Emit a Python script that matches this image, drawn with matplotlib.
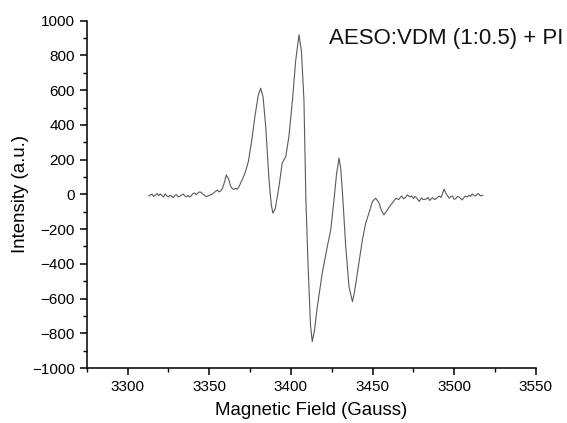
import matplotlib.pyplot as plt
from matplotlib.ticker import MultipleLocator

plt.rcParams['font.family'] = ['Liberation Sans', 'DejaVu Sans']

# EPR spectrum (field in Gauss, intensity in a.u.)
field = [3313, 3314, 3315, 3316, 3317, 3318, 3319, 3320, 3321, 3322,
         3323, 3324, 3325, 3326, 3327, 3328, 3329, 3330, 3331, 3332,
         3333, 3334, 3335, 3336, 3337, 3338, 3339, 3340, 3341, 3342,
         3343, 3344, 3345, 3346, 3347, 3348, 3349, 3350, 3351, 3352,
         3353, 3354, 3355, 3356, 3357, 3358, 3359, 3360.5, 3362, 3363,
         3364, 3365, 3366, 3367, 3368, 3370, 3372, 3374, 3376, 3378,
         3380, 3381.5, 3383, 3384.6, 3386.6, 3388, 3389, 3390.5, 3392.7, 3394.7,
         3396.9, 3398.8, 3401, 3403, 3405, 3406.5, 3408, 3409.2, 3410.5, 3412,
         3413.1, 3414.5, 3416.2, 3419.2, 3422.3, 3424.4, 3426.4, 3428, 3429.5, 3430.5,
         3431.5, 3433.6, 3435.6, 3437.7, 3439, 3440.7, 3443.8, 3445.8, 3447.8, 3450,
         3452, 3454, 3455.5, 3457, 3459, 3461.2, 3463, 3464.2, 3466, 3467,
         3468, 3469, 3470, 3471.3, 3473, 3474, 3475, 3476, 3477, 3478.6,
         3480, 3481, 3482.6, 3484, 3485, 3486, 3487, 3488, 3489, 3490,
         3491, 3492, 3493.8, 3495, 3496.9, 3498, 3499, 3500, 3501, 3502,
         3503, 3504.9, 3506, 3507, 3508, 3509, 3510, 3511.1, 3512, 3513,
         3514.5, 3516.3, 3517.5]
intensity = [-10, -2, 0, -12, -4, 5, -8, 3, -6, -15,
             3, -8, -15, -5, -12, -18, -6, -2, -14, -10,
             -4, 2, -8, -14, -6, -16, -8, 4, 8, -2,
             8, 14, 12, 2, -5, -12, -10, -6, -2, 2,
             10, 18, 25, 14, 20, 32, 60, 112, 85, 50,
             35, 28, 34, 30, 40, 80, 125, 190, 310, 450,
             570, 612, 560, 390, 84, -60, -108, -80, 45, 180,
             218, 333, 545, 775, 919, 820, 545, -32, -400, -750,
             -848, -780, -647, -454, -301, -205, -32, 120, 209, 150,
             26, -301, -531, -618, -560, -454, -262, -166, -108, -40,
             -22, -50, -95, -118, -90, -60, -40, -22, -30, -18,
             -10, -25, -20, -3, -15, -8, -25, -12, -20, -41,
             -20, -30, -28, -18, -35, -25, -20, -30, -25, -15,
             -10, -18, 30, 5, -22, -12, -10, -28, -25, -12,
             -15, -32, -18, -10, -16, -5, -12, 3, -6, -10,
             5, -9, -5]

fig = plt.figure(figsize=(5.67, 4.23), dpi=100)
ax = fig.add_axes([0.153, 0.13, 0.792, 0.821])

ax.plot(field, intensity, color='#5a5a5a', lw=0.8)

ax.set_xlim(3275, 3550)
ax.set_ylim(-1000, 1000)
ax.xaxis.set_major_locator(MultipleLocator(50))
ax.xaxis.set_minor_locator(MultipleLocator(25))
ax.yaxis.set_major_locator(MultipleLocator(200))
ax.yaxis.set_minor_locator(MultipleLocator(100))

ax.spines['top'].set_visible(False)
ax.spines['right'].set_visible(False)
for s in ['left', 'bottom']:
    ax.spines[s].set_linewidth(1.1)
ax.tick_params(which='major', direction='out', length=5, width=1.1, labelsize=11)
ax.tick_params(which='minor', direction='out', length=3, width=1.0)

ax.set_xlabel('Magnetic Field (Gauss)', fontsize=13.4, labelpad=6)
ax.set_ylabel('Intensity (a.u.)', fontsize=13.4, labelpad=2)

fig.text(0.993, 0.908, 'AESO:VDM (1:0.5) + PI', fontsize=16,
         ha='right', va='center', color='#111111')

fig.savefig('out.png', dpi=100)
plt.close(fig)
